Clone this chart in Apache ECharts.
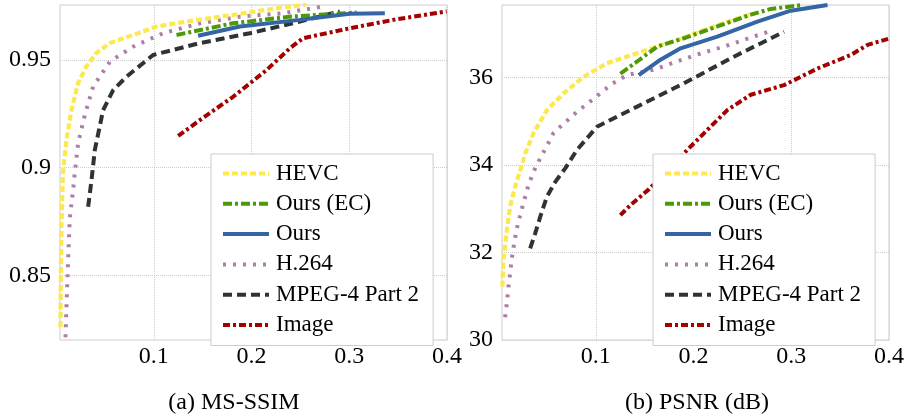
<!DOCTYPE html>
<html>
<head>
<meta charset="utf-8">
<script src="https://cdn.jsdelivr.net/npm/echarts@6/dist/echarts.min.js"></script>
<style>
  html, body { margin: 0; padding: 0; background: #fff; }
  #chart { width: 913px; height: 419px; }
</style>
</head>
<body>
<div id="chart"></div>
<script>
// legend order
var names = ['HEVC', 'Ours (EC)', 'Ours', 'H.264', 'MPEG-4 Part 2', 'Image']

// tick labels
var xTicks = [0.1, 0.2, 0.3, 0.4]
var ssimTicks = [0.85, 0.9, 0.95]
var psnrTicks = [30, 32, 34, 36]

// (a) MS-SSIM, [bpp, value]
var hevcSsim = [[0.0045, 0.826], [0.0048, 0.849], [0.0055, 0.8725], [0.007, 0.8975], [0.0106, 0.9128], [0.0157, 0.9267],
  [0.0225, 0.9392], [0.031, 0.947], [0.041, 0.9531], [0.055, 0.9578], [0.079, 0.9616], [0.1028, 0.9655],
  [0.133, 0.9678], [0.181, 0.9709], [0.2256, 0.974], [0.256, 0.9756]]
var oursEcSsim = [[0.1232, 0.9616], [0.181, 0.967], [0.2392, 0.9701], [0.3075, 0.972]]
var oursSsim = [[0.1453, 0.9612], [0.188, 0.9655], [0.2494, 0.9686], [0.3006, 0.9714], [0.3364, 0.9717]]
var h264Ssim = [[0.0096, 0.8213], [0.0106, 0.8353], [0.0123, 0.857], [0.014, 0.8765], [0.0177, 0.891], [0.0191, 0.8974],
  [0.0225, 0.9113], [0.0294, 0.9244], [0.0379, 0.9376], [0.055, 0.9492], [0.0788, 0.9562], [0.1095, 0.9624],
  [0.147, 0.967], [0.1881, 0.9701], [0.2323, 0.9717], [0.2733, 0.9748]]
var mpeg4Ssim = [[0.0328, 0.8818], [0.0362, 0.894], [0.0396, 0.9081], [0.0481, 0.9267], [0.0584, 0.936], [0.072, 0.9422],
  [0.0993, 0.9523], [0.147, 0.9578], [0.1983, 0.9624], [0.2494, 0.9678], [0.2904, 0.9725]]
var imageSsim = [[0.1249, 0.9147], [0.147, 0.922], [0.1811, 0.9329], [0.2153, 0.9453], [0.2392, 0.9554], [0.2528, 0.9601],
  [0.3006, 0.9647], [0.345, 0.9686], [0.3996, 0.9725]]

// (b) PSNR (dB), [bpp, value]
var hevcPsnr = [[0.0044, 31.22], [0.0054, 31.82], [0.0089, 32.5], [0.0123, 33.04], [0.0174, 33.5], [0.0243, 33.99],
  [0.0277, 34.26], [0.0362, 34.72], [0.0499, 35.25], [0.067, 35.63], [0.0875, 36.01], [0.1115, 36.32],
  [0.1423, 36.55], [0.1833, 36.85], [0.2208, 37.16], [0.2516, 37.39], [0.262, 37.45]]
var oursEcPsnr = [[0.1251, 36.08], [0.1423, 36.36], [0.1628, 36.7], [0.19, 36.89], [0.2243, 37.16], [0.2585, 37.43],
  [0.279, 37.56], [0.3115, 37.65]]
var oursPsnr = [[0.1439, 36.05], [0.1662, 36.4], [0.1867, 36.66], [0.2243, 36.93], [0.2653, 37.27], [0.2995, 37.52],
  [0.3371, 37.65]]
var h264Psnr = [[0.0072, 30.52], [0.0089, 30.83], [0.0106, 31.21], [0.0123, 31.52], [0.014, 31.86], [0.0164, 32.2],
  [0.0192, 32.55], [0.0226, 32.85], [0.0267, 33.19], [0.0311, 33.54], [0.0362, 33.84], [0.0431, 34.15],
  [0.0499, 34.43], [0.0567, 34.73], [0.0687, 34.97], [0.08, 35.2], [0.0916, 35.4], [0.1039, 35.62],
  [0.1159, 35.84], [0.132, 36.05], [0.1587, 36.17], [0.173, 36.28], [0.2021, 36.51], [0.2311, 36.7],
  [0.2602, 36.92], [0.2756, 37.03]]
var mpeg4Psnr = [[0.0328, 32.09], [0.0379, 32.43], [0.0431, 32.81], [0.0499, 33.27], [0.0585, 33.61], [0.0687, 33.92],
  [0.0807, 34.34], [0.1012, 34.87], [0.1423, 35.33], [0.19, 35.86], [0.2413, 36.47], [0.2926, 37.04]]
var imagePsnr = [[0.1251, 32.85], [0.1354, 33.08], [0.1542, 33.44], [0.19, 34.26], [0.2106, 34.72], [0.2345, 35.25],
  [0.2585, 35.6], [0.2926, 35.82], [0.3268, 36.2], [0.361, 36.51], [0.3781, 36.74], [0.401, 36.89]]

var font = 'Liberation Serif'
var styles = {
  'HEVC': { color: '#fce94f', width: 4.2, type: [6, 3] },
  'Ours (EC)': { color: '#4e9a06', width: 4, type: [9, 3, 3, 3] },
  'Ours': { color: '#3465a4', width: 4, type: 'solid' },
  'H.264': { color: '#ad7fa8', width: 4, type: [3, 7] },
  'MPEG-4 Part 2': { color: '#2e3436', width: 4, type: [9, 5] },
  'Image': { color: '#a40000', width: 4, type: [7, 3, 3, 3] },
}

function line(name, data, idx) {
  const s = styles[name]
  return {
    name: name,
    type: 'line',
    data: data,
    xAxisIndex: idx,
    yAxisIndex: idx,
    symbol: 'none',
    silent: true,
    color: s.color,
    lineStyle: { color: s.color, width: s.width, type: s.type, cap: 'butt' },
  }
}

function xAxis(idx) {
  return {
    type: 'value',
    gridIndex: idx,
    min: 0.004,
    max: 0.4,
    axisLine: { show: false },
    axisTick: { show: false, customValues: xTicks },
    axisLabel: { customValues: xTicks, fontFamily: font, fontSize: 24, color: '#000', margin: 5 },
    splitLine: { show: true, lineStyle: { color: '#ccc', type: 'dotted', width: 1 } },
  }
}

function yAxis(idx, min, max, ticks) {
  return {
    type: 'value',
    gridIndex: idx,
    min: min,
    max: max,
    axisLine: { show: false },
    axisTick: { show: false, customValues: ticks },
    axisLabel: { customValues: ticks, fontFamily: font, fontSize: 24, color: '#000', margin: 9 },
    splitLine: { show: true, lineStyle: { color: '#ccc', type: 'dotted', width: 1 } },
  }
}

function legend(left) {
  return {
    data: names,
    orient: 'vertical',
    left: left,
    top: 154,
    itemWidth: 46,
    itemHeight: 20,
    itemGap: 7.3,
    padding: [8, 14, 9, 10],
    backgroundColor: '#fff',
    borderColor: '#ccc',
    borderWidth: 1,
    borderRadius: 0,
    selectedMode: false,
    itemStyle: { opacity: 0 },
    lineStyle: { width: 4 },
    textStyle: { fontFamily: font, fontSize: 23, color: '#000', lineHeight: 20, padding: [0, 0, 0, 2] },
  }
}

var chart = echarts.init(document.getElementById('chart'), null, { renderer: 'canvas' })
chart.setOption({
  animation: false,
  backgroundColor: '#fff',
  title: [
    { text: '(a) MS-SSIM', left: 229, top: 386, textAlign: 'center',
      textStyle: { fontFamily: font, fontSize: 24, fontWeight: 'normal', color: '#000' } },
    { text: '(b) PSNR (dB)', left: 692, top: 386, textAlign: 'center',
      textStyle: { fontFamily: font, fontSize: 24, fontWeight: 'normal', color: '#000' } },
  ],
  grid: [
    { left: 60, top: 5, width: 387, height: 335, show: true, borderColor: '#ccc', borderWidth: 1, backgroundColor: '#fff' },
    { left: 502, top: 5, width: 387, height: 335, show: true, borderColor: '#ccc', borderWidth: 1, backgroundColor: '#fff' },
  ],
  xAxis: [xAxis(0), xAxis(1)],
  yAxis: [yAxis(0, 0.82, 0.9755, ssimTicks), yAxis(1, 30, 37.65, psnrTicks)],
  legend: [legend(211), legend(653)],
  series: [
    line('Image', imageSsim, 0),
    line('MPEG-4 Part 2', mpeg4Ssim, 0),
    line('H.264', h264Ssim, 0),
    line('HEVC', hevcSsim, 0),
    line('Ours (EC)', oursEcSsim, 0),
    line('Ours', oursSsim, 0),
    line('Image', imagePsnr, 1),
    line('MPEG-4 Part 2', mpeg4Psnr, 1),
    line('H.264', h264Psnr, 1),
    line('HEVC', hevcPsnr, 1),
    line('Ours (EC)', oursEcPsnr, 1),
    line('Ours', oursPsnr, 1),
  ],
})
</script>
</body>
</html>
